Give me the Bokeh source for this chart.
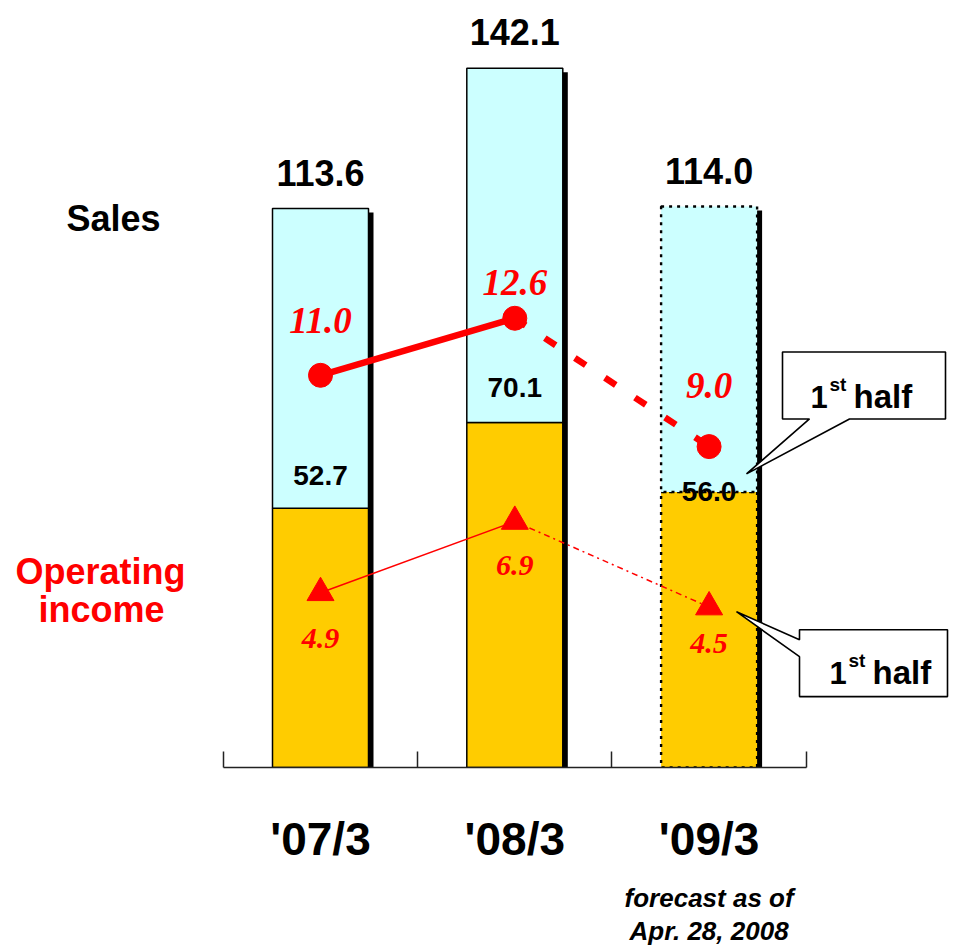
from bokeh.plotting import figure
from bokeh.models import (Range1d, LinearAxis, FixedTicker, ColumnDataSource,
                          Label, CDSView, IndexFilter)
from bokeh.transform import dodge
from bokeh.core.properties import value
from bokeh.embed import file_html
from bokeh.resources import INLINE

# ---------------- data ----------------
categories = ["'07/3", "'08/3", "'09/3"]
sales_total = [113.6, 142.1, 114.0]
sales_first_half = [52.7, 70.1, 56.0]
oi_total = [11.0, 12.6, 9.0]
oi_first_half = [4.9, 6.9, 4.5]
actual_idx = [0, 1]
forecast_idx = [2]
forecast_note = "forecast as of\nApr. 28, 2008"

# ---------------- layout / style ----------------
W, H = 954, 948
AX_Y = 768          # pixel row of the baseline
X0, STEP = 320, 194.3
SALES_PX = 4.927    # px per unit of sales
OI_PX = 35.7        # px per unit of operating income
BAR_W = 96 / STEP
SH_DX, SH_DY = 5 / STEP, 4 / SALES_PX
CYAN, ORANGE, RED = "#CCFFFF", "#FFCC00", "#FF0000"
SANS, SERIF = "Liberation Sans", "Liberation Serif"
circle_label_dy = [-55, -36, -61]
tri_label_dy = [46, 44, 36]
half_label_dy = [-33, -35, 0]


def fx(px):
    return (px - X0) / STEP


def fy(py):
    return (AX_Y - py) / SALES_PX


xs = list(range(len(categories)))

p = figure(width=W, height=H, output_backend="svg", toolbar_location=None,
           x_range=Range1d(fx(0), fx(W)), y_range=Range1d(0, AX_Y / SALES_PX),
           x_axis_location=None, y_axis_location=None,
           min_border_left=0, min_border_right=0, min_border_top=0,
           min_border_bottom=H - AX_Y)
p.extra_y_ranges = {"oi": Range1d(0, AX_Y / OI_PX)}
p.outline_line_color = None
p.grid.visible = False
p.background_fill_color = "white"
p.border_fill_color = "white"

ax = LinearAxis(
    ticker=FixedTicker(ticks=xs, minor_ticks=[i - 0.5 for i in range(len(categories) + 1)]),
    bounds=(-0.5, len(categories) - 0.5),
    major_label_overrides={i: c for i, c in enumerate(categories)},
    major_tick_in=0, major_tick_out=0, minor_tick_in=16, minor_tick_out=0,
    axis_line_width=1.5, axis_line_color="#222222",
    minor_tick_line_color="#222222", minor_tick_line_width=1.5,
    major_label_text_font=SANS, major_label_text_font_style="bold",
    major_label_text_font_size="46px", major_label_text_color="black",
    major_label_standoff=45)
p.add_layout(ax, "below")

# note under the forecast year (second, label-only axis)
ax2 = LinearAxis(
    ticker=FixedTicker(ticks=[forecast_idx[0]]),
    major_label_overrides={forecast_idx[0]: forecast_note},
    axis_line_color=None, major_tick_in=0, major_tick_out=0,
    minor_tick_in=0, minor_tick_out=0,
    major_label_text_font=SANS, major_label_text_font_style="bold italic",
    major_label_text_font_size="26px", major_label_text_color="black",
    major_label_text_line_height=1.1,
    major_label_standoff=15)
p.add_layout(ax2, "below")

src = ColumnDataSource(dict(
    x=xs, total=sales_total, h1=sales_first_half,
    total_txt=[f"{v:.1f}" for v in sales_total],
    h1_txt=[f"{v:.1f}" for v in sales_first_half],
    half_dy=half_label_dy,
))

# shadows
p.vbar(x=dodge("x", SH_DX), width=BAR_W, top=dodge("total", -SH_DY), bottom=-SH_DY,
       source=src, fill_color="black", line_color=None)

for idx, dash, lw in ((actual_idx, "solid", 1.5), (forecast_idx, "3 5", 2.4)):
    view = CDSView(filter=IndexFilter(idx))
    p.vbar(x="x", width=BAR_W, bottom=0, top="h1", source=src, view=view,
           fill_color=ORANGE, line_color="black", line_width=lw, line_dash=dash)
    p.vbar(x="x", width=BAR_W, bottom="h1", top="total", source=src, view=view,
           fill_color=CYAN, line_color="black", line_width=lw, line_dash=dash)

# bar value labels
p.text(x="x", y="total", text="total_txt", source=src, y_offset=-36,
       text_align="center", text_baseline="middle", text_font=value(SANS),
       text_font_style="bold", text_font_size="36px", text_color="black")
p.text(x="x", y="h1", text="h1_txt", source=src, y_offset="half_dy",
       text_align="center", text_baseline="middle", text_font=value(SANS),
       text_font_style="bold", text_font_size="28px", text_color="black")

# operating income lines
p.line(xs[:2], oi_total[:2], y_range_name="oi", line_color=RED, line_width=6.5)
p.line(xs[1:], oi_total[1:], y_range_name="oi", line_color=RED, line_width=6.5,
       line_dash="13 23")
p.scatter(xs, oi_total, y_range_name="oi", marker="circle", size=24,
          fill_color=RED, line_color=RED)
p.line(xs[:2], oi_first_half[:2], y_range_name="oi", line_color=RED, line_width=1.5)
p.line(xs[1:], oi_first_half[1:], y_range_name="oi", line_color=RED, line_width=1.5,
       line_dash="6 4 2 4")
p.scatter(xs, oi_first_half, y_range_name="oi", marker="triangle", size=27,
          fill_color=RED, line_color=RED)

oi_src = ColumnDataSource(dict(
    x=xs, t=oi_total, h=oi_first_half,
    t_txt=[f"{v:.1f}" for v in oi_total], h_txt=[f"{v:.1f}" for v in oi_first_half],
    t_dy=circle_label_dy, h_dy=tri_label_dy))
p.text(x="x", y="t", text="t_txt", source=oi_src, y_range_name="oi", y_offset="t_dy",
       text_align="center", text_baseline="middle", text_font=value(SERIF),
       text_font_style="bold italic", text_font_size="37px", text_color=RED)
p.text(x="x", y="h", text="h_txt", source=oi_src, y_range_name="oi", y_offset="h_dy",
       text_align="center", text_baseline="middle", text_font=value(SERIF),
       text_font_style="bold italic", text_font_size="30px", text_color=RED)

# callouts
call1 = [(782, 352), (945, 352), (945, 419), (849, 419), (746, 474), (809, 419), (782, 419)]
call2 = [(799, 630), (947, 630), (947, 697), (799, 697), (799, 657), (736, 612), (799, 640)]
for poly in (call1, call2):
    p.patch([fx(a) for a, b in poly], [fy(b) for a, b in poly],
            fill_color="white", line_color="black", line_width=1.6)

for (x1, base) in ((810, 397), (829, 673)):
    p.add_layout(Label(x=fx(x1), y=fy(base), text="1", text_align="left",
                       text_baseline="alphabetic", text_font=SANS, text_color="black",
                       text_font_style="bold", text_font_size="31px"))
    p.add_layout(Label(x=fx(x1 + 19), y=fy(base - 12), text="st", text_align="left",
                       text_baseline="alphabetic", text_font=SANS, text_color="black",
                       text_font_style="bold", text_font_size="19px"))
    p.add_layout(Label(x=fx(x1 + 43), y=fy(base), text="half", text_align="left",
                       text_baseline="alphabetic", text_font=SANS, text_color="black",
                       text_font_style="bold", text_font_size="33px"))

# side labels
p.add_layout(Label(x=fx(113), y=fy(218), text="Sales", text_align="center",
                   text_baseline="middle", text_font=SANS, text_font_style="bold",
                   text_font_size="36px", text_color="black"))
p.add_layout(Label(x=fx(100), y=fy(572), text="Operating", text_align="center",
                   text_baseline="middle", text_font=SANS, text_font_style="bold",
                   text_font_size="36px", text_color=RED))
p.add_layout(Label(x=fx(101), y=fy(610), text="income", text_align="center",
                   text_baseline="middle", text_font=SANS, text_font_style="bold",
                   text_font_size="36px", text_color=RED))

open("out.html", "w").write(file_html(p, INLINE))
